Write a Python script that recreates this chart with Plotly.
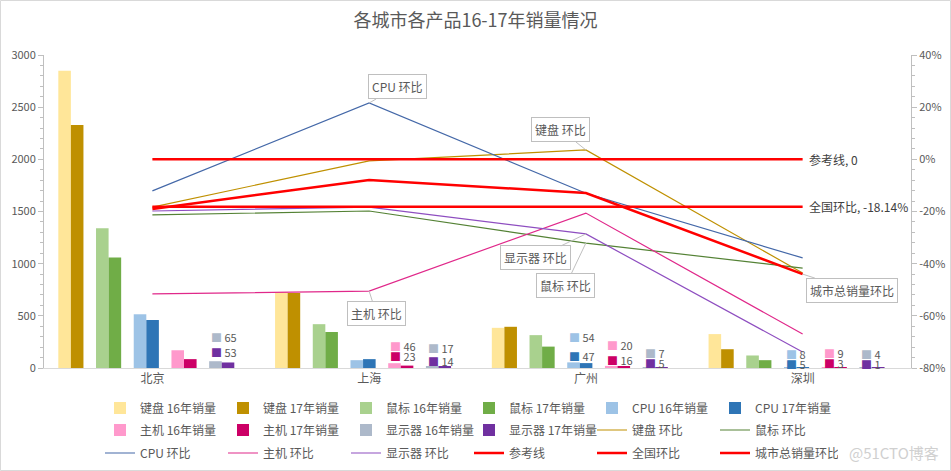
import plotly.graph_objects as go

# 数据
cities = ['北京', '上海', '广州', '深圳']
products = ['键盘', '鼠标', 'CPU', '主机', '显示器']

sales_16 = {
	'键盘': [2850, 725, 385, 325],
	'鼠标': [1340, 420, 315, 120],
	'CPU': [515, 75, 54, 8],
	'主机': [170, 46, 20, 9],
	'显示器': [65, 17, 7, 4],
}
sales_17 = {
	'键盘': [2330, 720, 395, 180],
	'鼠标': [1060, 345, 205, 75],
	'CPU': [460, 85, 47, 5],
	'主机': [85, 23, 16, 3],
	'显示器': [53, 14, 5, 1],
}

# 环比（%）
mom_keyboard = [-18.3, -0.6, 3.6, -43.6]
mom_mouse = [-21.3, -19.8, -32.1, -41.7]
mom_cpu = [-12.1, 21.6, -13.0, -37.8]
mom_host = [-51.6, -50.5, -20.6, -67.0]
mom_monitor = [-19.8, -18.3, -28.6, -73.9]
ref_line = [0, 0, 0, 0]
national_mom = [-18.14, -18.14, -18.14, -18.14]
city_total_mom = [-19.0, -7.9, -12.9, -44.0]

left_ticks = [0, 500, 1000, 1500, 2000, 2500, 3000]
right_ticks = [40, 20, 0, -20, -40, -60, -80]

colors_16 = {'键盘': '#FFE699', '鼠标': '#A9D18E', 'CPU': '#9DC3E6', '主机': '#FF99CC', '显示器': '#ADB9CA'}
colors_17 = {'键盘': '#BF9000', '鼠标': '#70AD47', 'CPU': '#2E75B6', '主机': '#CC0066', '显示器': '#7030A0'}

font_family = 'Noto Sans CJK SC'
grey_text = '#595959'

fig = go.Figure()

# 图例每行 6 项，用三个图例分行
legend_names = ['legend', 'legend', 'legend', 'legend', 'legend', 'legend',
				'legend2', 'legend2', 'legend2', 'legend2', 'legend2', 'legend2',
				'legend3', 'legend3', 'legend3', 'legend3', 'legend3', 'legend3']

bw = 0.058
start = -0.434
k = 0
for p, prod in enumerate(products):
	fig.add_trace(go.Bar(x=cities, y=sales_16[prod], name=f'{prod} 16年销量', legend=legend_names[k],
						 marker_color=colors_16[prod], width=bw, offset=start + p * 3 * bw))
	k += 1
	fig.add_trace(go.Bar(x=cities, y=sales_17[prod], name=f'{prod} 17年销量', legend=legend_names[k],
						 marker_color=colors_17[prod], width=bw, offset=start + p * 3 * bw + bw))
	k += 1

lines = [
	('键盘 环比', mom_keyboard, '#BF9000', 1.2),
	('鼠标 环比', mom_mouse, '#548235', 1.2),
	('CPU 环比', mom_cpu, '#4468A8', 1.2),
	('主机 环比', mom_host, '#E0288A', 1.2),
	('显示器 环比', mom_monitor, '#8E4EC0', 1.2),
	('参考线', ref_line, '#FF0000', 2.5),
	('全国环比', national_mom, '#FF0000', 2.5),
	('城市总销量环比', city_total_mom, '#FF0000', 2.5),
]
for name, vals, col, w in lines:
	fig.add_trace(go.Scatter(x=cities, y=vals, name=name, mode='lines', legend=legend_names[k],
							 line=dict(color=col, width=w), yaxis='y2'))
	k += 1

annotations = []

# 小数值柱子的数据标签（位置为左轴单位）
label_pos = {
	('北京', '显示器'): (297, 153),
	('上海', '主机'): (211, 115),
	('上海', '显示器'): (192, 67),
	('广州', 'CPU'): (297, 115),
	('广州', '主机'): (220, 77),
	('广州', '显示器'): (144, 48),
	('深圳', 'CPU'): (134, 38),
	('深圳', '主机'): (144, 48),
	('深圳', '显示器'): (134, 38),
}
for (city, prod), (y16, y17) in label_pos.items():
	ci = cities.index(city)
	p = products.index(prod)
	xx = ci + start + p * 3 * bw
	v16 = sales_16[prod][ci]
	v17 = sales_17[prod][ci]
	for yy, v, col in [(y16, v16, colors_16[prod]), (y17, v17, colors_17[prod])]:
		annotations.append(dict(
			x=xx, y=yy, xref='x', yref='y', xanchor='left', yanchor='middle',
			text=f"<span style='color:{col};font-size:11px'>■</span> {v}",
			showarrow=False, font=dict(size=11, color=grey_text, family=font_family)))

# 折线标注框
callouts = [
	('CPU 环比', '上海', mom_cpu[1], 28, -16),
	('键盘 环比', '广州', mom_keyboard[2], -25, -20),
	('显示器 环比', '广州', mom_monitor[2], -50, 24),
	('鼠标 环比', '广州', mom_mouse[2], -20, 42),
	('主机 环比', '上海', mom_host[1], 7, 22),
	('城市总销量环比', '深圳', city_total_mom[3], 49, 16),
]
for text, city, yv, ax, ay in callouts:
	annotations.append(dict(
		x=city, y=yv, xref='x', yref='y2', text=text, showarrow=True,
		arrowhead=0, arrowwidth=1, arrowcolor='#BFBFBF', ax=ax, ay=ay,
		bordercolor='#BFBFBF', borderwidth=1, borderpad=3, bgcolor='white',
		font=dict(size=12, color=grey_text, family=font_family)))

annotations.append(dict(x='深圳', y=ref_line[3], xref='x', yref='y2', xanchor='left', xshift=4,
						text='参考线, 0', showarrow=False,
						font=dict(size=12, color='#404040', family=font_family)))
annotations.append(dict(x='深圳', y=national_mom[3], xref='x', yref='y2', xanchor='left', xshift=4,
						text=f'全国环比, {national_mom[3]:.2f}%', showarrow=False,
						font=dict(size=12, color='#404040', family=font_family)))
annotations.append(dict(x=1.0, y=(368 - 453) / 313, xref='paper', yref='paper', xanchor='right',
						yanchor='middle', xshift=30, text='@51CTO博客', showarrow=False,
						font=dict(size=15, color='#D0D0D0', family=font_family)))

legend_style = dict(orientation='h', xanchor='left', x=(100 - 44) / 867, yanchor='middle',
					entrywidth=78, entrywidthmode='pixels', tracegroupgap=0, itemwidth=30,
					font=dict(size=12, color=grey_text, family=font_family))

fig.update_layout(
	template='none',
	width=951, height=471,
	margin=dict(l=44, r=40, t=55, b=103, autoexpand=False),
	paper_bgcolor='white', plot_bgcolor='white',
	font=dict(family=font_family, color=grey_text, size=12),
	title=dict(text='各城市各产品16-17年销量情况', x=0.5, xanchor='center', y=0.955, yanchor='middle',
			   font=dict(size=18, color=grey_text, family=font_family)),
	barmode='overlay',
	showlegend=True,
	legend=dict(legend_style, y=(368 - 408) / 313),
	legend2=dict(legend_style, y=(368 - 430) / 313),
	legend3=dict(legend_style, y=(368 - 453) / 313),
	xaxis=dict(type='category', showline=True, linecolor='#D9D9D9', linewidth=1, automargin=False,
			   ticks='', showgrid=False, tickfont=dict(size=12, color=grey_text)),
	yaxis=dict(range=[0, 3000], tickvals=left_ticks, showgrid=False, zeroline=False, automargin=False,
			   showline=True, linecolor='#BFBFBF', ticks='outside', ticklen=5, tickcolor='#BFBFBF',
			   minor=dict(ticks='outside', ticklen=3, tickcolor='#BFBFBF', dtick=100),
			   tickfont=dict(size=11, color=grey_text)),
	yaxis2=dict(range=[-80, 40], tickvals=right_ticks, ticktext=[f'{t}%' for t in right_ticks],
				overlaying='y', side='right', automargin=False,
				showgrid=False, zeroline=False, showline=True, linecolor='#BFBFBF',
				ticks='outside', ticklen=5, tickcolor='#BFBFBF',
				minor=dict(ticks='outside', ticklen=3, tickcolor='#BFBFBF', dtick=4),
				tickfont=dict(size=11, color=grey_text)),
	annotations=annotations,
	shapes=[dict(type='rect', xref='paper', yref='paper', x0=-43.5 / 867, x1=1 + 39.5 / 867,
				 y0=-102.5 / 313, y1=1 + 54.5 / 313, line=dict(color='#D9D9D9', width=1))],
)

# 去掉页面默认边距，让图从左上角开始
fig.write_html('out.html', config={'displayModeBar': False},
			   post_script="document.body.style.margin='0';")
